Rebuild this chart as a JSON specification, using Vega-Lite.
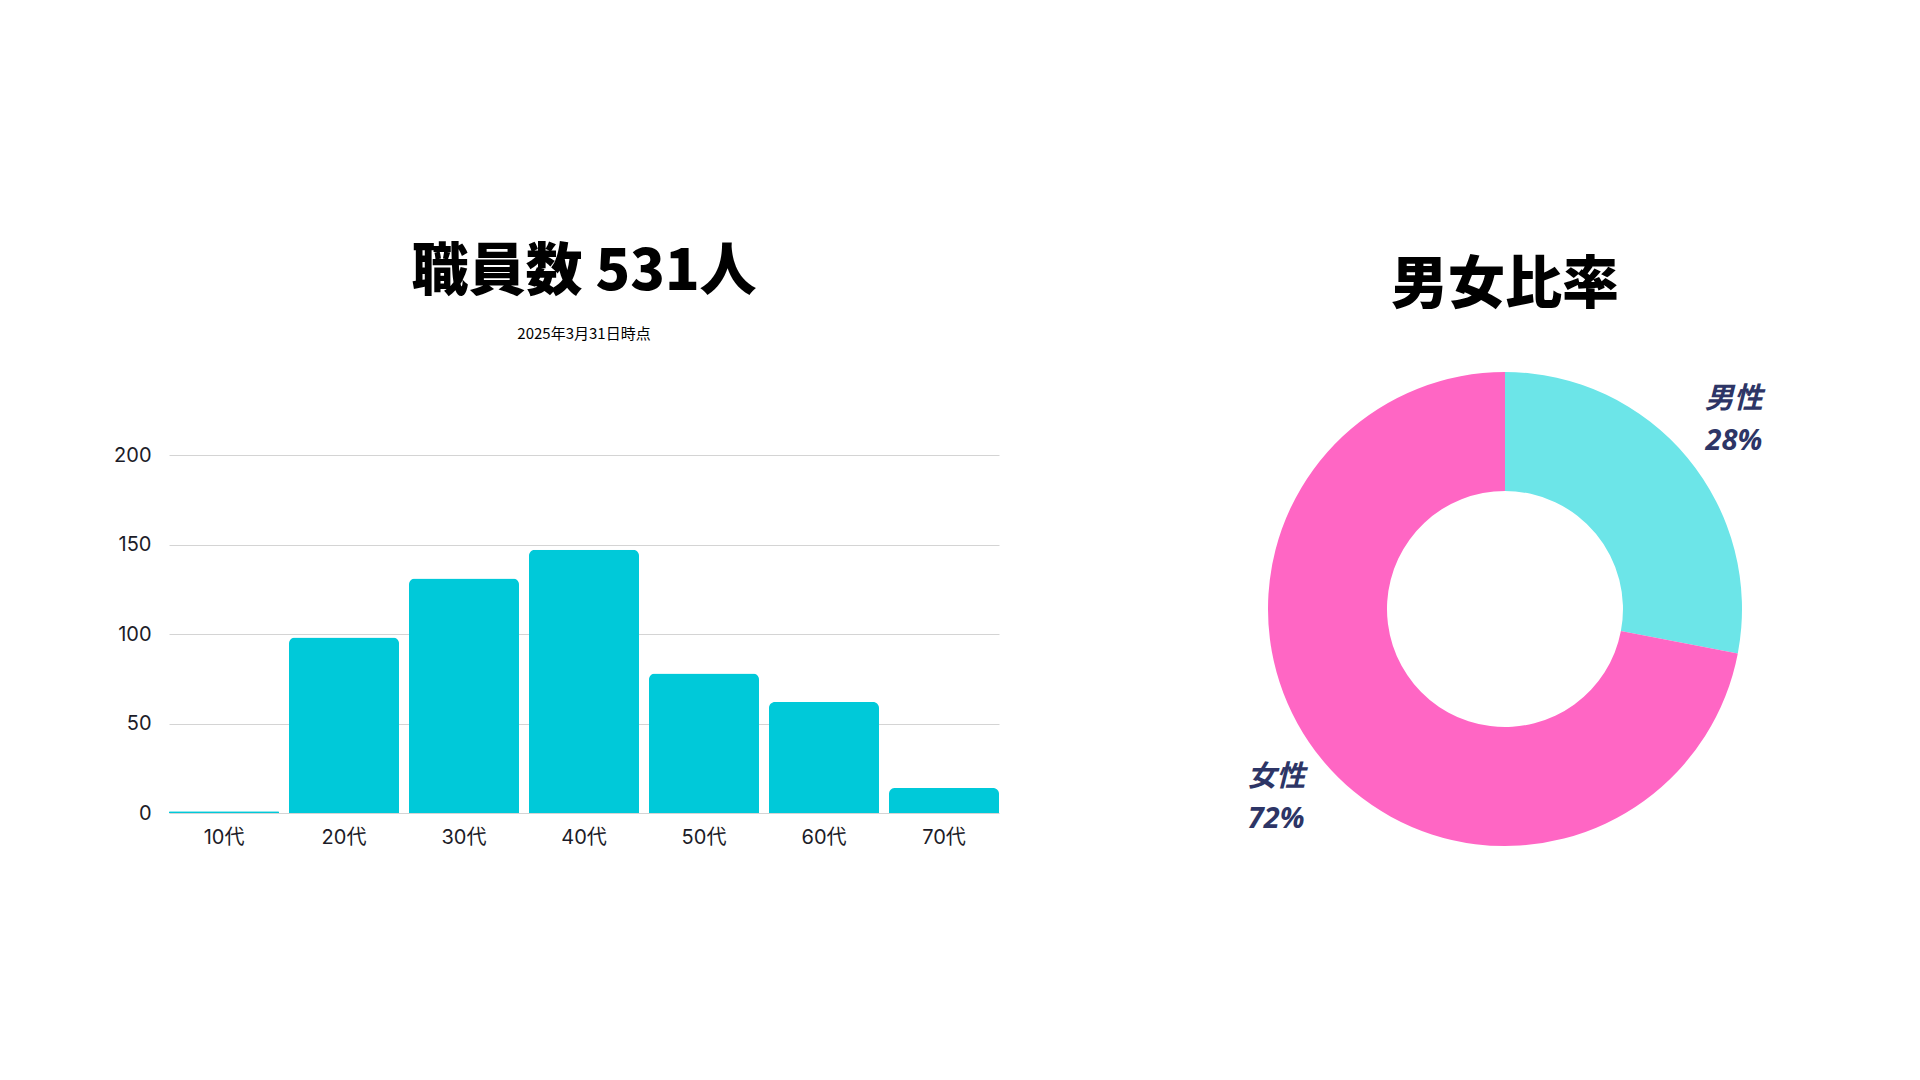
{
  "$schema": "https://vega.github.io/schema/vega-lite/v6.json",
  "background": "white",
  "padding": {"left": 113, "top": 244, "right": 20, "bottom": 20},
  "bounds": "flush",
  "spacing": 266,
  "config": {"view": {"stroke": null}},
  "datasets": {
    "age": [
      {"年代": "10代", "人数": 1},
      {"年代": "20代", "人数": 98},
      {"年代": "30代", "人数": 131},
      {"年代": "40代", "人数": 147},
      {"年代": "50代", "人数": 78},
      {"年代": "60代", "人数": 62},
      {"年代": "70代", "人数": 14}
    ],
    "gender": [
      {"性別": "男性", "割合": 0.28},
      {"性別": "女性", "割合": 0.72}
    ]
  },
  "hconcat": [
    {
      "width": 830,
      "height": 358,
      "data": {"name": "age"},
      "title": {
        "text": "職員数 531人",
        "subtitle": "2025年3月31日時点",
        "anchor": "middle",
        "font": "Noto Sans CJK JP",
        "fontSize": 57,
        "fontWeight": 900,
        "color": "#000000",
        "subtitleFont": "Noto Sans CJK JP",
        "subtitleFontSize": 15,
        "subtitleColor": "#000000",
        "subtitlePadding": 25,
        "offset": 102
      },
      "mark": {"type": "bar", "color": "#00C9D9", "cornerRadiusTopLeft": 6, "cornerRadiusTopRight": 6},
      "encoding": {
        "x": {
          "field": "年代",
          "type": "nominal",
          "sort": null,
          "scale": {"paddingInner": 0.083, "paddingOuter": 0},
          "axis": {
            "title": null,
            "labelAngle": 0,
            "ticks": false,
            "domain": false,
            "labelFont": "Inter, Noto Sans CJK JP",
            "labelFontSize": 20,
            "labelColor": "#1c1c28",
            "labelPadding": 14
          }
        },
        "y": {
          "field": "人数",
          "type": "quantitative",
          "scale": {"domain": [0, 200]},
          "axis": {
            "title": null,
            "values": [0, 50, 100, 150, 200],
            "ticks": false,
            "domain": false,
            "gridColor": "#d4d4d4",
            "labelFont": "Inter",
            "labelFontSize": 20,
            "labelColor": "#1c1c28",
            "labelPadding": 18
          }
        }
      }
    },
    {
      "width": 480,
      "height": 308,
      "data": {"name": "gender"},
      "title": {
        "text": "男女比率",
        "anchor": "middle",
        "font": "Noto Sans CJK JP",
        "fontSize": 57,
        "fontWeight": 900,
        "color": "#000000",
        "offset": 57
      },
      "encoding": {
        "theta": {"field": "割合", "type": "quantitative", "stack": true},
        "order": {"field": "性別", "sort": "descending"},
        "color": {
          "field": "性別",
          "type": "nominal",
          "scale": {"domain": ["男性", "女性"], "range": ["#6CE5E8", "#FF66C4"]},
          "legend": null
        }
      },
      "layer": [
        {"mark": {"type": "arc", "innerRadius": 118, "outerRadius": 237}},
        {
          "mark": {
            "type": "text",
            "radius": 297,
            "dy": -21,
            "align": "center",
            "baseline": "middle",
            "font": "Noto Sans CJK JP",
            "fontSize": 29,
            "fontWeight": "bold",
            "fontStyle": "italic",
            "color": "#2D3566"
          },
          "encoding": {"text": {"field": "性別", "type": "nominal"}, "color": {"value": "#2D3566"}}
        },
        {
          "mark": {
            "type": "text",
            "radius": 297,
            "dy": 21,
            "align": "center",
            "baseline": "middle",
            "font": "Open Sans",
            "fontSize": 29,
            "fontWeight": "bold",
            "fontStyle": "italic",
            "color": "#2D3566"
          },
          "encoding": {"text": {"field": "割合", "type": "quantitative", "format": ".0%"}, "color": {"value": "#2D3566"}}
        }
      ]
    }
  ]
}
